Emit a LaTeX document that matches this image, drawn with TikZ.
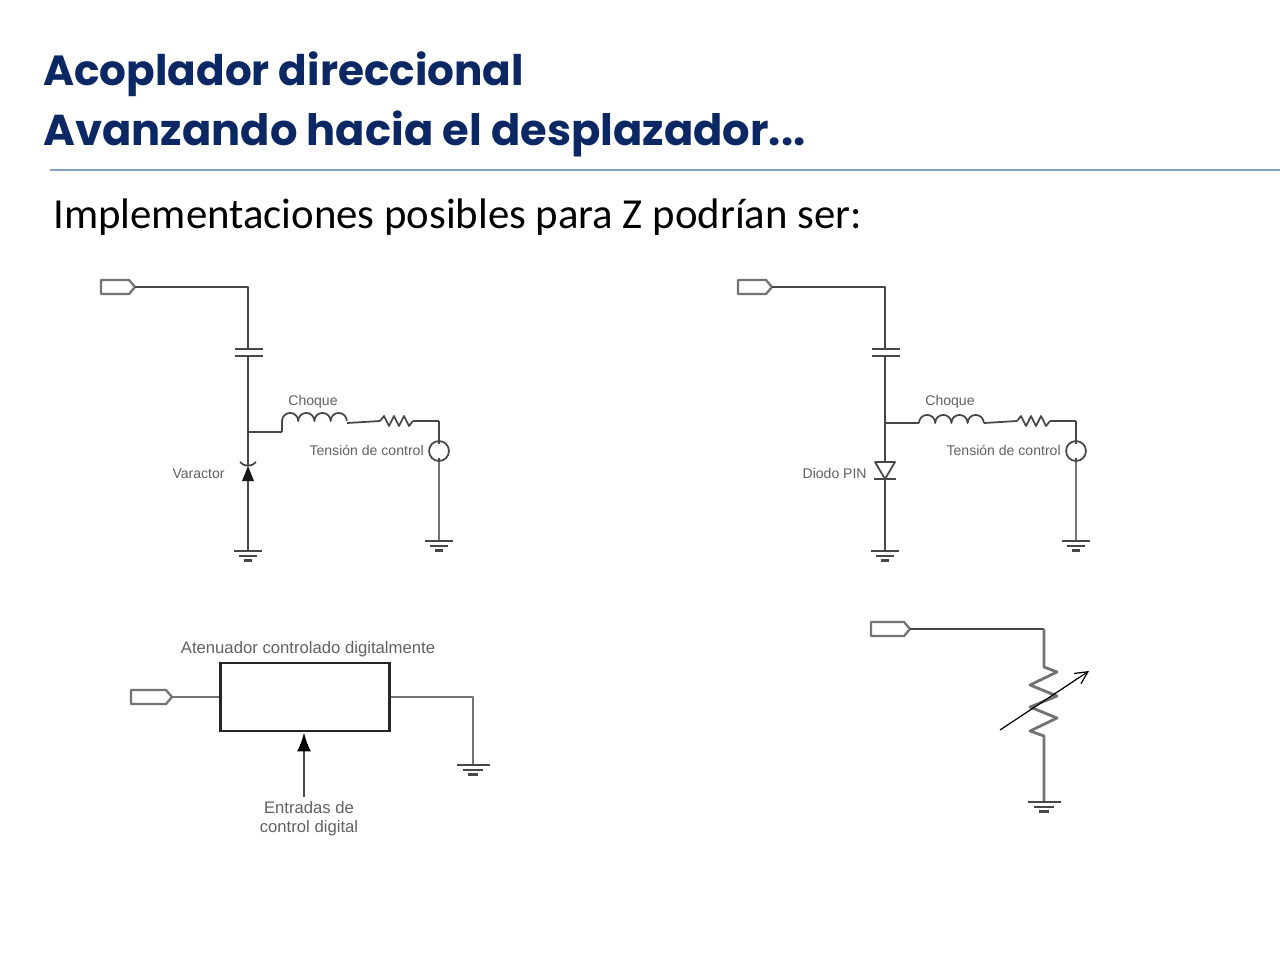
\documentclass[tikz,border=0pt]{standalone}
\usepackage{fontspec}
\setmainfont{Liberation Sans}
\newfontfamily\titlefont{Poppins}
\newfontfamily\bodyfont{Carlito}
\usetikzlibrary{arrows.meta}
\definecolor{titleblue}{HTML}{0B2865}
\definecolor{rulecol}{HTML}{85A2C6}
\tikzset{
  wire/.style={draw=black!72, line width=1pt, line join=round},
  softwire/.style={draw=black!55, line width=1.6pt, line join=round},
  lbl/.style={inner sep=0pt, text=black!62, font=\fontsize{8}{10}\selectfont},
  lblbig/.style={inner sep=0pt, text=black!62, font=\fontsize{9.5}{12}\selectfont},
  pics/portin/.style={code={
    \draw[draw=black!55, line width=1.3pt, line join=round] (0,0) -- (-6,-7) -- (-#1,-7) -- (-#1,7) -- (-6,7) -- cycle;
  }},
  pics/gnd/.style={code={
    \draw[wire] (-#1,0) -- (#1,0);
    \draw[wire] (-0.62*#1,5) -- (0.62*#1,5);
    \draw[wire, line width=1.2pt] (-0.3*#1,9.5) -- (0.3*#1,9.5);
  }},
  pics/gnd/.default=14,
  pics/coil/.style={code={
    \draw[wire] (0,0) foreach \k in {0,1,2,3} { arc[start angle=180, end angle=360, radius=8.1] };
  }},
  pics/zig/.style={code={
    \draw[wire] (0,0) -- (4,-5) -- (9,5) -- (14,-5) -- (19,5) -- (24,-5) -- (29,5) -- (33,0);
  }}
}
% one branch with choke, resistor and control source
\newcommand{\biasbranch}[1]{
    \coordinate (j) at (248,#1);
    \coordinate (top) at (248,287);
    \coordinate (c1) at (248,349);
    \coordinate (c2) at (248,356);
    \coordinate (lin) at (282,#1);
    \pic at (101+34,287) {portin=34};
    \coordinate (pt) at (135,287);
    \draw[wire] (pt) -- (top) -- (c1);
    \draw[wire] (235,349) -- (263,349);
    \draw[wire] (235,356) -- (263,356);
    \draw[wire] (c2) -- (j) -- (lin);
    \node[lbl] (choque) at (313,402) {Choque};
    \node[lbl, anchor=east] (tension) at (424,450.5) {Tensión de control};
    \node[draw=black!72, line width=1pt, circle, minimum size=20*0.567pt, inner sep=0pt] (src) at (439,451) {};
    \coordinate (rb) at (439,421);
    \coordinate (re) at (413,421);
    \coordinate (ri) at (380,421);
    \coordinate (le) at (347,423);
    \draw[wire] (rb) -- (src.north);
    \draw[wire] (src.north) -- ++(0,4);
    \draw[wire] (src.south) -- ++(0,-4);
    \draw[softwire, line width=1.3pt] (src.south) -- (439,541);
    \draw[wire] (le) -- (ri);
    \pic at (ri) {zig};
    \draw[wire] (re) -- (rb);
    \pic at (439,541) {gnd};
    \pic at (248,551) {gnd};
}
\begin{document}
\begin{tikzpicture}[x=0.02cm, y=-0.02cm]
    \useasboundingbox (0,0) rectangle (1280,960);

    \node[anchor=base west, inner sep=0pt, text=titleblue, font=\titlefont\bfseries\fontsize{24}{28}\selectfont] (title1) at (43,85) {Acoplador direccional};
    \node[anchor=base west, inner sep=0pt, text=titleblue, font=\titlefont\bfseries\fontsize{24.6}{28}\selectfont] (title2) at (43,145) {Avanzando hacia el desplazador...};
    \coordinate (ruleL) at (50,170);
    \coordinate (ruleR) at (1280,170);
    \draw[rulecol, line width=0.6pt] (ruleL) -- (ruleR);
    \node[anchor=base west, inner sep=0pt, font=\bodyfont\fontsize{24.35}{28}\selectfont] (intro) at (53,228) {Implementaciones posibles para Z podrían ser:};

    % varactor
    \begin{scope}[]
    \biasbranch{432}
    \draw[wire] (282,432) -- (282,421);
    \pic at (282,421) {coil};
    \node[lbl, anchor=east] (varactor) at (225,474) {Varactor};
    \coordinate (vtop) at (248,466);
    \coordinate (vbot) at (248,481);
    \draw[wire] (j) -- (vtop);
    \draw[wire] (vbot) -- (248,551);
    \draw[wire] (240,462) .. controls (244,467) and (252,467) .. (256,462);
    \fill[black!90] (vtop) -- (242,481) -- (254,481) -- cycle;
    \end{scope}

    % diodo PIN
    \begin{scope}[shift={(637,0)}]
    \biasbranch{423}
    \pic at (282,423) {coil};
    \node[lbl, anchor=east] (diodo) at (230,473) {Diodo PIN};
    \coordinate (dtop) at (248,462);
    \coordinate (dbot) at (248,479);
    \draw[wire] (j) -- (dtop);
    \draw[wire] (dbot) -- (248,551);
    \draw[wire] (238,462) -- (258,462) -- (dbot) -- cycle;
    \draw[wire] (237,479) -- (259,479);
    \end{scope}

    % atenuador
    \node[draw=black!85, line width=1.4pt, minimum width=170*0.567pt, minimum height=68*0.567pt, inner sep=0pt] (aten) at (305,697) {};
    \node[lblbig] (atenlbl) at (308,649) {Atenuador controlado digitalmente};
    \node[lblbig] (entr1) at (309,808) {Entradas de};
    \node[lblbig] (entr2) at (309,828) {control digital};
    \pic at (172,697) {portin=41};
    \coordinate (ap) at (172,697);
    \coordinate (ac) at (473,697);
    \coordinate (ag) at (473,765);
    \coordinate (as) at (304,797);
    \draw[softwire] (ap) -- (aten.west);
    \draw[softwire] (aten.east) -- (ac) -- (ag);
    \pic at (ag) {gnd=16.5};
    \draw[softwire, draw=black!70, -{Latex[length=11pt, width=8pt, black]}] (as) -- (aten.south -| as);

    % resistencia variable
    \pic at (910,629) {portin=39};
    \coordinate (rp) at (910,629);
    \coordinate (rc) at (1044,629);
    \coordinate (r1) at (1044,667);
    \coordinate (r2) at (1044,736);
    \coordinate (rg) at (1044,802);
    \coordinate (a1) at (1000,730);
    \coordinate (a2) at (1089,671);
    \draw[wire] (rp) -- (rc);
    \draw[softwire] (rc) -- (r1) -- (1057,672) -- (1030,685) -- (1057,696) -- (1030,707) -- (1057,718) -- (1030,731) -- (r2) -- (rg);
    \pic at (rg) {gnd=16.5};
    \draw[black, line width=0.7pt, -{Straight Barb[length=7pt, width=7pt]}] (a1) -- (a2);
\end{tikzpicture}
\end{document}
